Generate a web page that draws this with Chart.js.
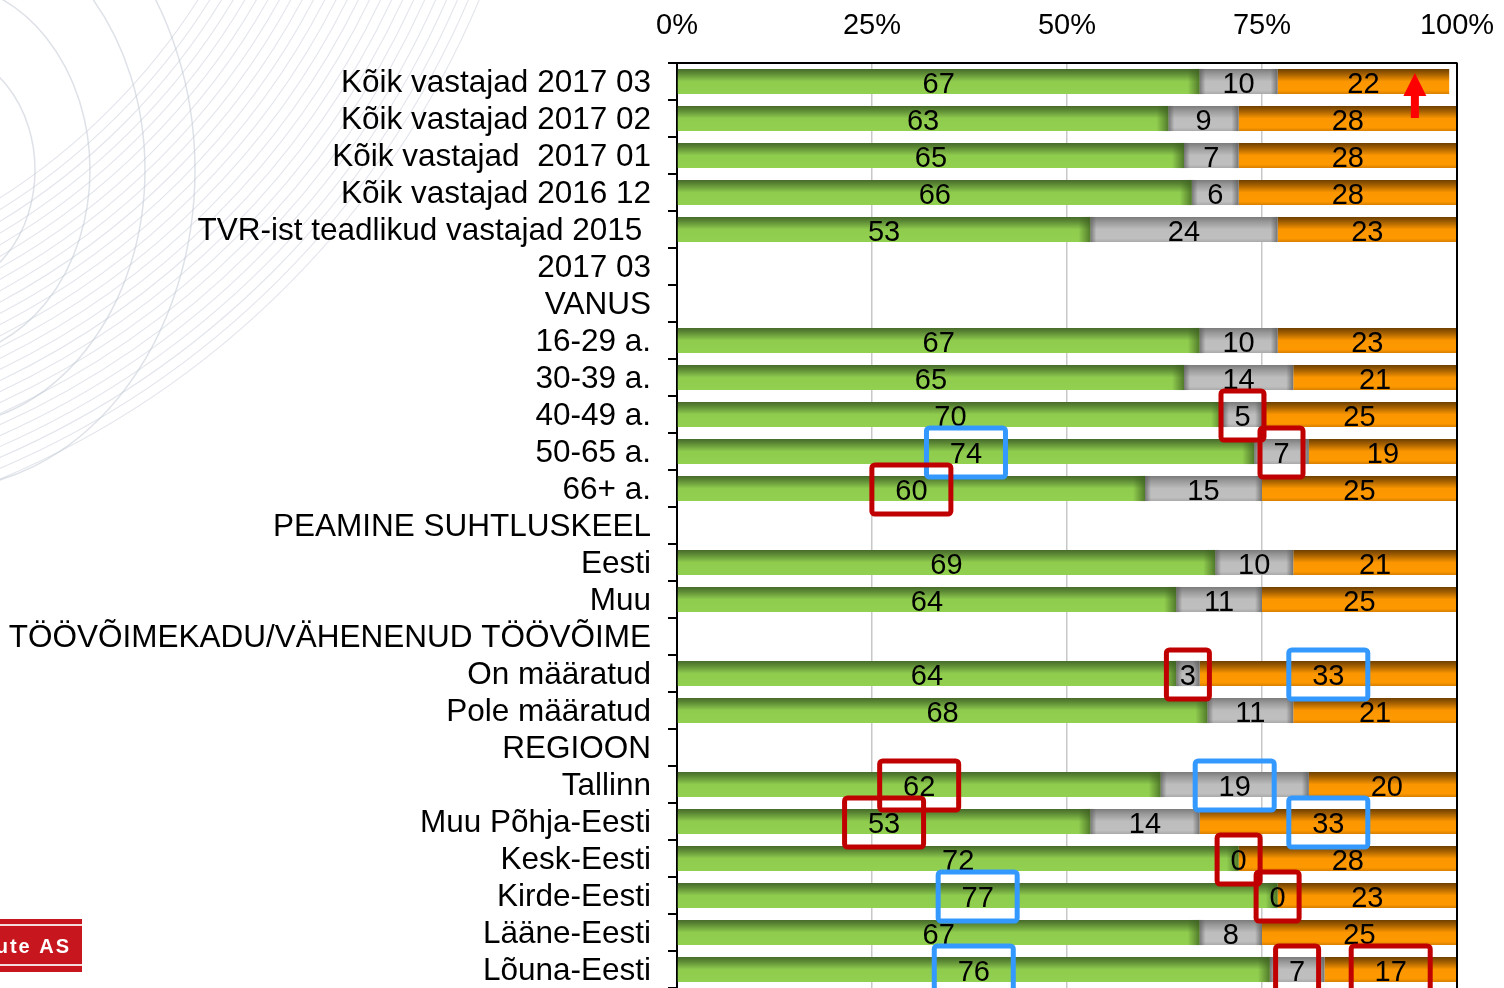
<!DOCTYPE html>
<html>
<head>
<meta charset="utf-8">
<script src="https://cdn.jsdelivr.net/npm/chart.js@4.4.1/dist/chart.umd.min.js"></script>
<style>
  html, body { margin: 0; padding: 0; background: #fff; overflow: hidden; }
  #wrap { position: relative; width: 1504px; height: 1000px; }
</style>
</head>
<body>
<div id="wrap"><canvas id="c" width="1504" height="1000"></canvas></div>
<script>
// Survey groups (header rows carry no bars)
const categories = [
  'Kõik vastajad 2017 03',
  'Kõik vastajad 2017 02',
  'Kõik vastajad  2017 01',
  'Kõik vastajad 2016 12',
  'TVR-ist teadlikud vastajad 2015 ',
  '2017 03',
  'VANUS',
  '16-29 a.',
  '30-39 a.',
  '40-49 a.',
  '50-65 a.',
  '66+ a.',
  'PEAMINE SUHTLUSKEEL',
  'Eesti',
  'Muu',
  'TÖÖVÕIMEKADU/VÄHENENUD TÖÖVÕIME',
  'On määratud',
  'Pole määratud',
  'REGIOON',
  'Tallinn',
  'Muu Põhja-Eesti',
  'Kesk-Eesti',
  'Kirde-Eesti',
  'Lääne-Eesti',
  'Lõuna-Eesti'
];

// Shares of answers, %
const greenValues  = [67, 63, 65, 66, 53, null, null, 67, 65, 70, 74, 60, null, 69, 64, null, 64, 68, null, 62, 53, 72, 77, 67, 76];
const greyValues   = [10,  9,  7,  6, 24, null, null, 10, 14,  5,  7, 15, null, 10, 11, null,  3, 11, null, 19, 14,  0,  0,  8,  7];
const orangeValues = [22, 28, 28, 28, 23, null, null, 23, 21, 25, 19, 25, null, 21, 25, null, 33, 21, null, 20, 33, 28, 23, 25, 17];

const xTickValues = [0, 25, 50, 75, 100];

// Highlighted values: [group, series (0 green, 1 grey, 2 orange), frame colour]
const highlights = [
  ['40-49 a.', 1, 'red'],
  ['50-65 a.', 0, 'blue'],
  ['50-65 a.', 1, 'red'],
  ['66+ a.', 0, 'red'],
  ['On määratud', 1, 'red'],
  ['On määratud', 2, 'blue'],
  ['Tallinn', 0, 'red'],
  ['Tallinn', 1, 'blue'],
  ['Muu Põhja-Eesti', 0, 'red'],
  ['Muu Põhja-Eesti', 2, 'blue'],
  ['Kesk-Eesti', 1, 'red'],
  ['Kirde-Eesti', 0, 'blue'],
  ['Kirde-Eesti', 1, 'red'],
  ['Lõuna-Eesti', 0, 'blue'],
  ['Lõuna-Eesti', 1, 'red'],
  ['Lõuna-Eesti', 2, 'red']
];

const FONT = "'Liberation Sans', Arial, sans-serif";
const BAR_PCT = 0.68;
const frameColours = { red: '#c00000', blue: '#3399ff' };

// vertical shading of each bar, dark top edge fading to the flat colour
function barFill(stops) {
  return (ctx) => {
    const chart = ctx.chart;
    const ys = chart.scales.y;
    const flat = stops[stops.length - 1][1];
    if (!ys || ctx.type !== 'data' || !isFinite(ys.height)) return flat;
    const yc = ys.getPixelForValue(ctx.dataIndex);
    const h = ys.height / categories.length * BAR_PCT;
    const g = chart.ctx.createLinearGradient(0, yc - h / 2, 0, yc + h / 2);
    stops.forEach(([o, c]) => g.addColorStop(o, c));
    return g;
  };
}

const greenFill = barFill([[0, '#476a2b'], [0.18, '#5d8a35'], [0.5, '#8fcc4e'], [1, '#92d050']]);
const greyFill = barFill([[0, '#7b7b7b'], [0.2, '#999999'], [0.5, '#bdbdbd'], [0.85, '#bfbfbf'], [1, '#a9a9a9']]);
const orangeFill = barFill([[0, '#6e3f00'], [0.22, '#a86200'], [0.5, '#fb9600'], [0.85, '#ff9900'], [1, '#d77f00']]);

// faint ring pattern in the upper left corner
const backdrop = {
  id: 'backdrop',
  beforeDraw(chart) {
    const c = chart.ctx;
    c.save();
    c.strokeStyle = 'rgba(190,198,210,0.45)';
    c.lineWidth = 1.1;
    for (let r = 650; r <= 900; r += 10) {
      c.beginPath();
      c.arc(-350, -350, r, 0, Math.PI / 2);
      c.stroke();
    }
    c.strokeStyle = 'rgba(190,198,210,0.5)';
    c.lineWidth = 1.5;
    [95, 150, 205, 255].forEach(rx => {
      c.beginPath();
      c.ellipse(-60, 170, rx, rx * 1.25, 0, -Math.PI / 2, Math.PI / 2);
      c.stroke();
    });
    c.restore();
  }
};

// side shading of segments, value labels, frames, arrow, border and badge
const decorations = {
  id: 'decorations',
  afterDatasetsDraw(chart) {
    const c = chart.ctx;
    const area = chart.chartArea;
    c.save();
    c.beginPath();
    c.rect(area.left, area.top, area.right - area.left, area.bottom - area.top);
    c.clip();
    [0, 1].forEach(di => {
      chart.getDatasetMeta(di).data.forEach((el, i) => {
        const v = chart.data.datasets[di].data[i];
        if (v === null || v === 0) return;
        const { x, y, base, height } = el.getProps(['x', 'y', 'base', 'height'], true);
        const top = y - height / 2;
        const w = di === 0 ? 12 : 7;
        const right = c.createLinearGradient(x - w, 0, x, 0);
        const shade = di === 0 ? '60,95,30' : '90,90,90';
        right.addColorStop(0, `rgba(${shade},0)`);
        right.addColorStop(1, `rgba(${shade},0.75)`);
        c.fillStyle = right;
        c.fillRect(x - w, top, w, height);
        if (di === 1) {
          const left = c.createLinearGradient(base, 0, base + 6, 0);
          left.addColorStop(0, 'rgba(90,90,90,0.7)');
          left.addColorStop(1, 'rgba(90,90,90,0)');
          c.fillStyle = left;
          c.fillRect(base, top, 6, height);
        }
      });
    });
    c.restore();

    // value labels
    c.save();
    c.font = `29px ${FONT}`;
    c.fillStyle = '#000';
    c.textAlign = 'center';
    c.textBaseline = 'middle';
    chart.data.datasets.forEach((ds, di) => {
      chart.getDatasetMeta(di).data.forEach((el, i) => {
        const v = ds.data[i];
        if (v === null || v === undefined) return;
        const { x, y, base } = el.getProps(['x', 'y', 'base'], true);
        c.fillText(String(v), (x + base) / 2, y + 3);
      });
    });
    c.restore();

    // highlight frames around selected values
    c.save();
    c.lineWidth = 5;
    c.lineJoin = 'round';
    highlights.forEach(([group, di, colour]) => {
      const i = categories.indexOf(group);
      const el = chart.getDatasetMeta(di).data[i];
      const v = chart.data.datasets[di].data[i];
      const { x, y, base } = el.getProps(['x', 'y', 'base'], true);
      const w = String(v).length > 1 ? 79 : 43;
      const h = 49;
      const cx = (x + base) / 2;
      const cy = y + 1;
      c.strokeStyle = frameColours[colour];
      c.beginPath();
      c.roundRect(cx - w / 2, cy - h / 2, w, h, 3);
      c.stroke();
    });
    c.restore();

    // upward arrow on the latest total
    const xs = chart.scales.x, ys = chart.scales.y;
    const ax = xs.getPixelForValue(94.6);
    const band = ys.height / categories.length;
    const tipY = ys.getPixelForValue(0) - band / 2 + 10;
    c.save();
    c.fillStyle = '#ff0000';
    c.beginPath();
    c.moveTo(ax, tipY);
    c.lineTo(ax + 11.5, tipY + 23);
    c.lineTo(ax + 4, tipY + 23);
    c.lineTo(ax + 4, tipY + 45);
    c.lineTo(ax - 4, tipY + 45);
    c.lineTo(ax - 4, tipY + 23);
    c.lineTo(ax - 11.5, tipY + 23);
    c.closePath();
    c.fill();
    c.restore();
  },
  afterDraw(chart) {
    const c = chart.ctx;
    const area = chart.chartArea;
    c.save();
    c.strokeStyle = '#000';
    c.lineWidth = 2;
    c.beginPath();
    c.moveTo(area.right, area.top);
    c.lineTo(area.right, area.bottom + 20);
    c.stroke();

    // company badge
    c.fillStyle = '#c8161e';
    c.fillRect(0, 919, 82, 53);
    c.fillStyle = '#f4dcdc';
    c.fillRect(0, 924, 82, 2);
    c.fillRect(0, 964, 82, 2);
    c.fillStyle = '#fff';
    c.font = `bold 20px ${FONT}`;
    c.letterSpacing = '2px';
    c.textAlign = 'right';
    c.textBaseline = 'alphabetic';
    c.fillText('ute AS', 71, 953);
    c.restore();
  }
};

const barCommon = {
  stack: 'answers',
  borderWidth: 0,
  barPercentage: BAR_PCT,
  categoryPercentage: 1
};

new Chart(document.getElementById('c'), {
  type: 'bar',
  data: {
    labels: categories,
    datasets: [
      { ...barCommon, label: 'green', data: greenValues, backgroundColor: greenFill },
      { ...barCommon, label: 'grey', data: greyValues, backgroundColor: greyFill },
      { ...barCommon, label: 'orange', data: orangeValues, backgroundColor: orangeFill }
    ]
  },
  options: {
    indexAxis: 'y',
    responsive: false,
    animation: false,
    devicePixelRatio: 1,
    layout: { padding: { left: 0, right: 47, top: 0, bottom: 12 } },
    plugins: {
      legend: { display: false },
      tooltip: { enabled: false }
    },
    scales: {
      x: {
        position: 'top',
        stacked: true,
        min: 0,
        max: 100,
        afterBuildTicks: (s) => { s.ticks = xTickValues.map(v => ({ value: v })); },
        ticks: {
          callback: (v) => v + '%',
          color: '#000',
          font: { family: FONT, size: 29 },
          padding: 20,
          maxRotation: 0
        },
        grid: { color: '#c8c8c8', lineWidth: 1.5, drawTicks: false },
        border: { color: '#000', width: 2 },
        afterFit: (s) => { s.height = 63; s.paddingLeft = 0; s.paddingRight = 0; }
      },
      y: {
        stacked: true,
        ticks: {
          color: '#000',
          font: { family: FONT, size: 31.5 },
          padding: 17,
          labelOffset: 2,
          autoSkip: false
        },
        grid: {
          drawOnChartArea: false,
          drawTicks: true,
          tickLength: 9,
          color: '#000',
          lineWidth: 2,
          offset: true
        },
        border: { color: '#000', width: 2 },
        afterFit: (s) => { s.width = 677; s.paddingTop = 0; s.paddingBottom = 0; }
      }
    }
  },
  plugins: [backdrop, decorations]
});
</script>
</body>
</html>
